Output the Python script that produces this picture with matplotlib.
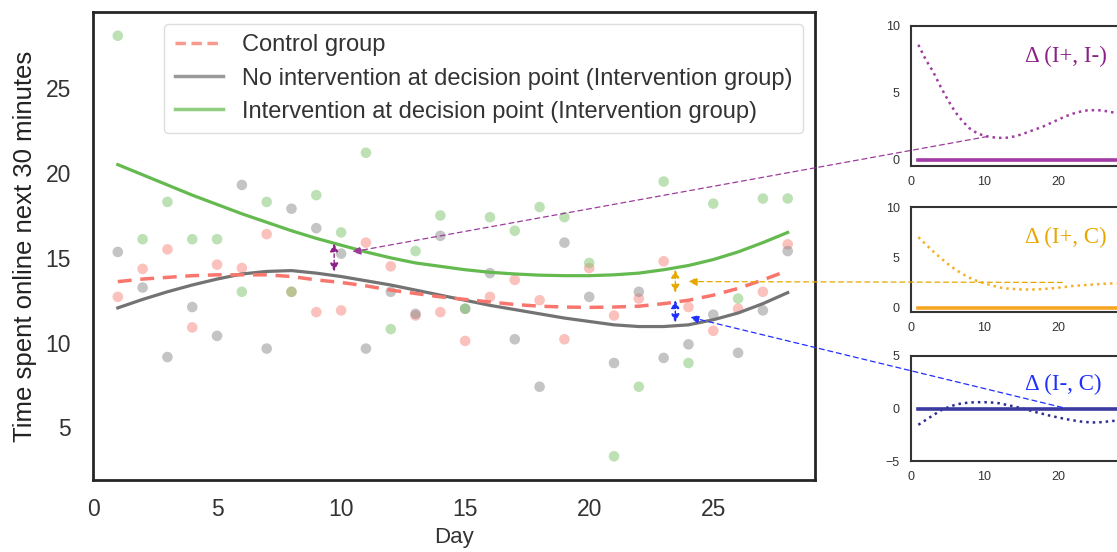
import matplotlib
matplotlib.use("Agg")
import matplotlib.pyplot as plt
from matplotlib.patches import ConnectionPatch
from matplotlib.lines import Line2D

plt.rcParams['font.family'] = ['Liberation Sans', 'DejaVu Sans']

# ---------------- data ----------------
days = list(range(1, 29))
control_pts = [12.7, 14.35, 15.5, 10.9, 14.6, 14.4, 16.4, 13.0, 11.8, 11.9, 15.9, 14.5, 11.6, 11.8,
               10.1, 12.7, 13.7, 12.5, 10.2, 14.4, 11.6, 12.6, 14.8, 12.1, 10.7, 12.0, 13.0, 15.8]
no_int_pts = [15.35, 13.25, 9.15, 12.1, 10.4, 19.3, 9.65, 17.9, 16.75, 15.25, 9.65, 13.0, 11.7, 16.3,
              12.0, 14.1, 10.2, 7.4, 15.9, 12.7, 8.8, 13.0, 9.1, 9.9, 11.65, 9.4, 11.9, 15.4]
int_pts = [28.1, 16.1, 18.3, 16.1, 16.1, 13.0, 18.3, 13.0, 18.7, 16.5, 21.2, 10.8, 15.4, 17.5,
           12.0, 17.4, 16.6, 18.0, 17.4, 14.7, 3.3, 7.4, 19.5, 8.8, 18.2, 12.6, 18.5, 18.5]

# fitted trend lines (read at each day)
control_curve = [13.6, 13.75, 13.85, 13.95, 14.0, 14.0, 14.0, 13.9, 13.7, 13.55, 13.35, 13.1, 12.9, 12.7,
                 12.55, 12.4, 12.25, 12.15, 12.1, 12.08, 12.1, 12.15, 12.3, 12.5, 12.8, 13.2, 13.7, 14.25]
no_int_curve = [12.05, 12.55, 13.0, 13.4, 13.75, 14.05, 14.2, 14.25, 14.1, 13.9, 13.65, 13.4, 13.1, 12.8,
                12.5, 12.2, 11.95, 11.7, 11.45, 11.25, 11.05, 10.95, 10.95, 11.05, 11.35, 11.75, 12.3, 12.95]
int_curve = [20.5, 19.9, 19.3, 18.7, 18.15, 17.6, 17.1, 16.6, 16.15, 15.75, 15.35, 15.0, 14.7, 14.5,
             14.3, 14.15, 14.05, 13.98, 13.95, 13.95, 14.0, 14.1, 14.3, 14.55, 14.9, 15.35, 15.9, 16.5]

# differences shown in the three small panels (read at each day)
delta_ip_im = [8.6, 7.5, 6.6, 5.5, 4.5, 3.6, 2.9, 2.35, 2.0, 1.8, 1.7, 1.65, 1.66, 1.75,
               1.9, 2.1, 2.3, 2.5, 2.75, 3.0, 3.25, 3.45, 3.6, 3.7, 3.72, 3.7, 3.6, 3.5]
delta_ip_c = [7.0, 6.3, 5.6, 4.95, 4.35, 3.8, 3.35, 2.95, 2.65, 2.4, 2.2, 2.0, 1.9, 1.85,
              1.8, 1.8, 1.8, 1.85, 1.9, 1.97, 2.05, 2.15, 2.2, 2.25, 2.3, 2.35, 2.4, 2.4]
delta_im_c = [-1.55, -1.1, -0.65, -0.2, 0.1, 0.35, 0.5, 0.57, 0.6, 0.6, 0.57, 0.5, 0.35, 0.2,
              0.03, -0.15, -0.35, -0.52, -0.7, -0.85, -1.0, -1.12, -1.23, -1.3, -1.33, -1.3, -1.22, -1.15]

legend_labels = ["Control group",
                 "No intervention at decision point (Intervention group)",
                 "Intervention at decision point (Intervention group)"]
inset_titles = ["Δ (I+, I-)", "Δ (I+, C)", "Δ (I-, C)"]

# ---------------- colours ----------------
RED = "#f8766d"
GRAY = "#737373"
GREEN = "#64b94f"
PURPLE = "#8b1f86"
GOLD = "#e6a800"
BLUE = "#1f2fff"

W, H = 1117, 552
fig = plt.figure(figsize=(W / 100, H / 100), dpi=100)

def fbox(l, t, r, b):
    return [l / W, 1 - b / H, (r - l) / W, (b - t) / H]

ax = fig.add_axes(fbox(93, 12, 815, 480))
ax.scatter(days, control_pts, s=58, color=RED, alpha=0.45, edgecolors='none', zorder=2)
ax.scatter(days, no_int_pts, s=58, color="#8a8a8a", alpha=0.5, edgecolors='none', zorder=2)
ax.scatter(days, int_pts, s=58, color="#7cc56c", alpha=0.5, edgecolors='none', zorder=2)

ax.plot(days, int_curve, color=GREEN, lw=2.3, zorder=3)
ax.plot(days, no_int_curve, color=GRAY, lw=2.3, zorder=3)
ax.plot(days, control_curve, color=RED, lw=2.5, ls=(0, (4, 2.5)), zorder=3)

ax.set_xlim(0, 29.1)
ax.set_ylim(1.9, 29.5)
ax.set_xticks([0, 5, 10, 15, 20, 25])
ax.set_yticks([5, 10, 15, 20, 25])
ax.tick_params(axis='both', length=0, labelsize=16.5, colors="#333333")
ax.tick_params(axis='y', pad=16)
ax.tick_params(axis='x', pad=13)
ax.set_xlabel("Day", fontsize=16, color="#333333", labelpad=4)
ax.set_ylabel("Time spent online next 30 minutes", fontsize=18.5, color="#222222", labelpad=6)
for s in ax.spines.values():
    s.set_linewidth(2.0)
    s.set_color("#262626")

handles = [Line2D([], [], color="#f99a90", lw=2.5, ls=(0, (3, 1.6))),
           Line2D([], [], color="#9a9a9a", lw=2.5),
           Line2D([], [], color="#8fcf7f", lw=2.5)]
leg = ax.legend(handles, legend_labels, loc='upper right', fontsize=17, frameon=True,
                fancybox=True, borderaxespad=0.5, handlelength=2.05, labelspacing=0.47,
                handletextpad=0.8, borderpad=0.45)
leg.get_frame().set_edgecolor("#d5d5d5")
leg.get_frame().set_linewidth(1.0)
for t in leg.get_texts():
    t.set_color("#333333")

# double arrows in main plot
def dbl(x, y0, y1, col):
    ax.annotate("", xy=(x, y0), xytext=(x, y1),
                arrowprops=dict(arrowstyle='<|-|>', color=col, lw=1.0, ls=(0, (2.5, 2)),
                                mutation_scale=12, shrinkA=0, shrinkB=0), zorder=5)

dbl(9.72, 15.85, 14.2, PURPLE)
dbl(23.47, 14.3, 12.95, GOLD)
dbl(23.47, 12.5, 11.2, BLUE)

# insets
inset_specs = [
    (fbox(911, 26, 1124, 166), (-0.45, 10), [0, 5, 10], delta_ip_im, "#a03ca0", "#a23aa6", PURPLE, 61.7),
    (fbox(911, 207, 1124, 312), (-0.44, 10), [0, 5, 10], delta_ip_c, "#f5b02a", "#f5a623", GOLD, 243),
    (fbox(911, 356, 1124, 461), (-4.9, 5), [-5, 0, 5], delta_im_c, "#2e2e8e", "#3a3aa0", BLUE, 390),
]
insets = []
for rect, ylim, yt, vals, dcol, scol, tcol, base in inset_specs:
    ia = fig.add_axes(rect)
    ia.plot(days, vals, color=dcol, lw=1.8, ls=(0, (1, 1.6)))
    ia.plot([1, 30], [0, 0], color=scol, lw=2.6)
    ia.set_xlim(0, 29)
    ia.set_ylim(*ylim)
    ia.set_xticks([0, 10, 20])
    ia.set_yticks(yt)
    ia.tick_params(length=0, labelsize=9, colors="#333333")
    ia.tick_params(axis='y', pad=8)
    ia.tick_params(axis='x', pad=7)
    for s in ia.spines.values():
        s.set_linewidth(1.5)
        s.set_color("#333333")
    insets.append(ia)

for (rect, ylim, yt, vals, dcol, scol, tcol, base), title in zip(inset_specs, inset_titles):
    fig.text(1025 / W, 1 - base / H, title, color=tcol, fontsize=16.5,
             family=['Liberation Serif', 'DejaVu Serif'], va='baseline', ha='left')

# connectors
def conn(ia, ptA, ptB, col):
    c = ConnectionPatch(xyA=ptA, coordsA=ia.transData, xyB=ptB, coordsB=ax.transData,
                        arrowstyle='-|>', color=col, lw=0.9, ls=(0, (4, 3)),
                        mutation_scale=13, shrinkA=0, shrinkB=0, zorder=6)
    fig.add_artist(c)

conn(insets[0], (10.4, 1.75), (10.44, 15.35), "#9b3c9b")
conn(insets[1], (20.6, 2.5), (24.0, 13.6), GOLD)
conn(insets[2], (20.6, 0.1), (24.07, 11.5), BLUE)

fig.savefig("out.png", dpi=100)
